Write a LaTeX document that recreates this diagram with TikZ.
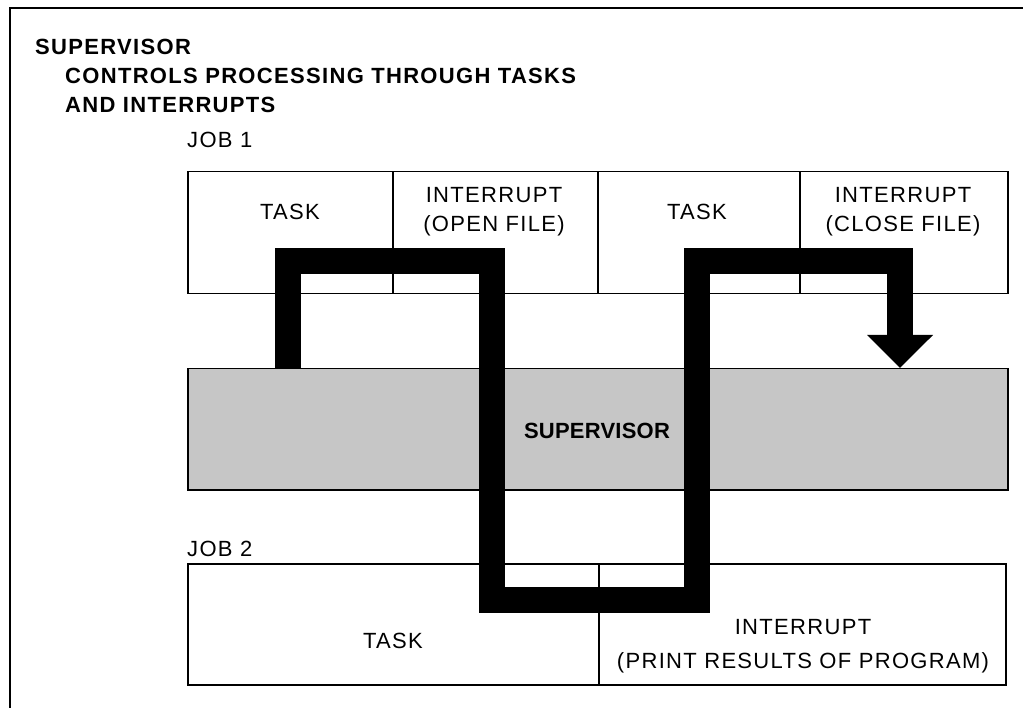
\documentclass[tikz,border=0pt]{standalone}
\usepackage{fontspec}
\setmainfont{Liberation Sans}[LetterSpace=6]
\usetikzlibrary{arrows.meta}
\begin{document}
\begin{tikzpicture}[x=1pt,y=-1pt,
  txt/.style={inner sep=0pt, font=\fontsize{22}{29}\selectfont, align=center},
  head/.style={inner sep=0pt, anchor=base west, font=\fontsize{22}{29}\selectfont\bfseries},
  lbl/.style={inner sep=0pt, anchor=base west, font=\fontsize{22}{29}\selectfont},
  cell/.style={draw, line width=1.5pt, anchor=north west, inner sep=0pt},
  flow/.style={line width=26pt, line join=miter, -{Triangle[width=64pt,length=33pt]}}]
\useasboundingbox (0,0) rectangle (1023,708);
% outer frame (top and left edges)
\coordinate (ftl) at (10,8);
\coordinate (ftr) at (1023,8);
\coordinate (fbl) at (10,708);
\draw[line width=2.2pt] (ftr) -- (ftl) -- (fbl);
% headings
\node[head] (h1) at (35,55) {SUPERVISOR};
\node[head] (h2) at (65,84) {CONTROLS PROCESSING THROUGH TASKS};
\node[head] (h3) at (65,113) {AND INTERRUPTS};
\node[lbl] (j1) at (187,148) {JOB 1};
\node[lbl] (j2) at (187,556) {JOB 2};
% job 1 cells
\node[cell, minimum width=205, minimum height=122] (c1) at (187,171) {};
\node[cell, minimum width=205, minimum height=122] (c2) at (392,171) {};
\node[cell, minimum width=202, minimum height=122] (c3) at (597,171) {};
\node[cell, minimum width=208, minimum height=122] (c4) at (799,171) {};
\node[txt] (t1) at (290,212) {TASK};
\node[txt] (t2) at (494,212) {INTERRUPT\\(OPEN FILE)};
\node[txt] (t3) at (697,212) {TASK};
\node[txt] (t4) at (903,212) {INTERRUPT\\(CLOSE FILE)};
% supervisor band
\node[cell, fill=gray!45, minimum width=820, minimum height=121] (sup) at (187,368) {};
\node[txt, font=\fontsize{22}{29}\selectfont\bfseries\addfontfeatures{LetterSpace=1}] (st) at (597,431) {SUPERVISOR};
% job 2 cells
\node[cell, minimum width=411, minimum height=121] (d1) at (187,563) {};
\node[cell, minimum width=407, minimum height=121] (d2) at (598,563) {};
\node[txt] (u1) at (393,641) {TASK};
\node[txt, font=\fontsize{22}{34}\selectfont] (u2) at (803,646) {INTERRUPT\\(PRINT RESULTS OF PROGRAM)};
% control flow
\coordinate (f0) at (288,368);
\coordinate (f1) at (492,261);
\coordinate (f2) at (697,600);
\coordinate (f3) at (900,261);
\coordinate (f4) at (900,368);
\draw[flow] (f0) |- (f1) |- (f2) |- (f3) -- (f4);
\end{tikzpicture}
\end{document}
